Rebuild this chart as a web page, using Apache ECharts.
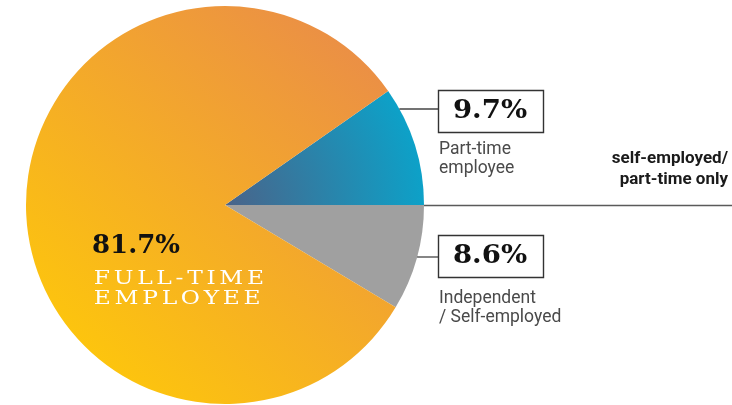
<!DOCTYPE html>
<html>
<head>
<meta charset="utf-8">
<script src="https://cdn.jsdelivr.net/npm/echarts@6/dist/echarts.min.js"></script>
<style>
  html, body { margin: 0; padding: 0; background: #fff; }
  #chart { width: 732px; height: 405px; }
</style>
</head>
<body>
<div id="chart"></div>
<script>
// Employment status shares (percent)
const categories = ['Part-time employee', 'Independent / Self-employed', 'Full-time employee'];
const shares = [9.7, 8.6, 81.7];
const sideLabels = [['Part-time', 'employee'], ['Independent', '/ Self-employed']];
const mainLabel = ['FULL-TIME', 'EMPLOYEE'];
const noteLabel = ['self-employed/', 'part-time only'];

const CX = 225, CY = 205, R = 199;

const chart = echarts.init(document.getElementById('chart'));

// letter-spaced text built from per-character rich tokens
function spaced(str) {
  return str.split('').map(ch => '{c|' + ch + '}').join('');
}

const pct = v => v.toFixed(1) + '%';

// x where a horizontal line at height y meets the pie rim (right side)
const rimX = y => CX + Math.sqrt(R * R - (y - CY) * (y - CY));

const boxes = [
  { y: 90, lineY: 109, idx: 0, textY: 159 },
  { y: 235, lineY: 257, idx: 1, textY: 308 }
];

const graphic = [];

// divider from the pie rim to the right edge
graphic.push({
  type: 'line', z: 10,
  shape: { x1: rimX(CY), y1: CY + 0.5, x2: 732, y2: CY + 0.5 },
  style: { stroke: '#5a5a5a', lineWidth: 1.6 }
});

boxes.forEach(b => {
  graphic.push({
    type: 'line', z: 10,
    shape: { x1: rimX(b.lineY), y1: b.lineY, x2: 438, y2: b.lineY },
    style: { stroke: '#444', lineWidth: 1.3 }
  });
  graphic.push({
    type: 'rect', z: 10,
    shape: { x: 438.5, y: b.y + 0.5, width: 105, height: 42 },
    style: { fill: '#fff', stroke: '#333', lineWidth: 1.4 }
  });
  graphic.push({
    type: 'text', z: 11,
    x: 490, y: b.y + 21,
    scaleX: 1.06,
    style: {
      text: pct(shares[b.idx]),
      font: 'bold 26px "DejaVu Serif"',
      fill: '#111', align: 'center', verticalAlign: 'middle'
    }
  });
  graphic.push({
    type: 'text', z: 11,
    x: 439, y: b.textY,
    style: {
      text: sideLabels[b.idx].join('\n'),
      font: '17.5px Roboto', lineHeight: 19,
      fill: '#4a4a4a', align: 'left', verticalAlign: 'middle'
    }
  });
});

// note at the right end of the divider
graphic.push({
  type: 'text', z: 11,
  x: 728, y: 169,
  style: {
    text: noteLabel.join('\n'),
    font: 'bold 17px Roboto', lineHeight: 21,
    fill: '#1a1a1a', align: 'right', verticalAlign: 'middle'
  }
});

// label inside the large slice
graphic.push({
  type: 'text', z: 11,
  x: 92, y: 246,
  style: {
    text: pct(shares[2]),
    font: 'bold 26px "DejaVu Serif"',
    fill: '#111', align: 'left', verticalAlign: 'middle'
  }
});
graphic.push({
  type: 'text', z: 11,
  x: 92, y: 289,
  scaleX: 1.23,
  style: {
    text: mainLabel.map(spaced).join('\n'),
    fill: '#fff', align: 'left', verticalAlign: 'middle',
    rich: {
      c: {
        font: '19px "DejaVu Serif"', fill: '#fff',
        padding: [0, 1.5, 0, 1.5], lineHeight: 20
      }
    }
  }
});

const sliceColors = [
  {
    type: 'radial', x: CX, y: CY, r: R, global: true,
    colorStops: [{ offset: 0, color: '#4a6389' }, { offset: 1, color: '#0da1c8' }]
  },
  '#a0a0a0',
  {
    type: 'linear', x: 420, y: 20, x2: 90, y2: 390, global: true,
    colorStops: [{ offset: 0, color: '#e8874e' }, { offset: 1, color: '#fec80a' }]
  }
];

chart.setOption({
  animation: false,
  graphic: graphic,
  series: [{
    type: 'pie',
    center: [CX, CY],
    radius: [0, R],
    startAngle: shares[0] * 3.6,
    clockwise: true,
    label: { show: false },
    labelLine: { show: false },
    emphasis: { disabled: true },
    silent: true,
    data: categories.map((name, i) => ({
      name: name,
      value: shares[i],
      itemStyle: { color: sliceColors[i], borderWidth: 0 }
    }))
  }]
});
</script>
</body>
</html>
